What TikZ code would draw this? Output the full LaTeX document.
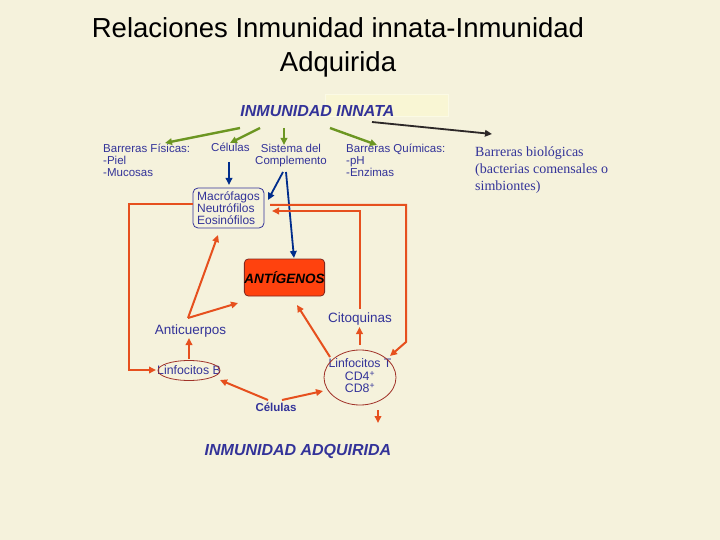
\documentclass[tikz,border=0pt]{standalone}
\usepackage{fontspec}
\setmainfont{Liberation Sans}
\newfontfamily\seriffont{Liberation Serif}
\usetikzlibrary{arrows.meta,shapes.geometric}
\definecolor{bg}{RGB}{245,242,220}
\definecolor{halo}{RGB}{249,246,212}
\definecolor{txtblue}{RGB}{51,51,153}
\definecolor{grn}{RGB}{108,150,34}
\definecolor{redl}{RGB}{230,80,30}
\definecolor{darkblue}{RGB}{0,45,140}
\definecolor{antred}{RGB}{255,66,14}
\definecolor{ellred}{RGB}{160,50,40}
\definecolor{dkline}{RGB}{45,40,40}
\tikzset{
  title/.style={font=\fontsize{27.5}{34}\selectfont, text=black, inner sep=0},
  head/.style={font=\fontsize{16}{19}\selectfont\bfseries\itshape, text=txtblue, inner sep=0},
  small/.style={font=\fontsize{11.5}{12.3}\selectfont, text=txtblue, inner sep=0},
  mid/.style={font=\fontsize{13.5}{15}\selectfont, text=txtblue, inner sep=0},
  lin/.style={font=\fontsize{12.3}{12.6}\selectfont, text=txtblue, inner sep=0},
  sertxt/.style={font=\seriffont\fontsize{14}{17}\selectfont, text=txtblue, inner sep=0},
  tip/.style={-{Triangle[length=7pt,width=6.5pt]}},
  garr/.style={tip, draw=grn, line width=2.4pt},
  barr/.style={tip, draw=darkblue, line width=1.8pt},
  rarr/.style={tip, draw=redl, line width=2pt},
  ell/.style={draw=ellred, line width=0.8pt},
}
\begin{document}
\begin{tikzpicture}[x=1pt,y=-1pt]
\fill[bg] (0,0) rectangle (720,540);
\useasboundingbox (0,0) rectangle (720,540);
% faint highlight box
\draw[draw=halo!60!white, fill=halo, line width=1pt] (325,95) rectangle (448,117);

% titles
\node[title, anchor=base] (t1) at (338,38) {Relaciones Inmunidad innata-Inmunidad};
\node[title, anchor=base] (t2) at (338,72) {Adquirida};
\node[head, anchor=base] (innata) at (317.5,117) {INMUNIDAD INNATA};

% top row texts
\node[small, anchor=north west, align=left] (fisicas) at (103,143.5) {Barreras Físicas:\\-Piel\\-Mucosas};
\node[small, anchor=base west] (celulas) at (211,152) {Células};
\node[small, anchor=north, align=center] (compl) at (291,143.5) {Sistema del\\Complemento};
\node[small, anchor=north west, align=left] (quimicas) at (346,143.5) {Barreras Químicas:\\-pH\\-Enzimas};
\node[sertxt, anchor=north west, align=left] (biol) at (475,147) {Barreras biológicas\\(bacterias comensales o\\simbiontes)};

% cells box
\node[small, font=\fontsize{12}{12}\selectfont, draw=txtblue, line width=0.8pt, rounded corners=5pt, align=left,
      minimum width=71, minimum height=40] (macro) at (228.5,208)
      {Macrófagos\\Neutrófilos\\Eosinófilos};

% antigens
\node[draw=ellred!80!black, line width=0.8pt, fill=antred, rounded corners=4pt,
      minimum width=77, minimum height=37, inner sep=0,
      font=\fontsize{13.5}{16}\selectfont\bfseries\itshape] (antig) at (284.5,277.5) {ANTÍGENOS};

% lower texts
\node[mid, anchor=base] (anticuerpos) at (190.5,334) {Anticuerpos};
\node[mid, anchor=base] (citoq) at (360,322) {Citoquinas};
\node[lin] (linfB) at (189,370.5) {Linfocitos B};
\draw[ell] (linfB.center) ellipse [x radius=31, y radius=10];
\node[lin, align=center] (linfT) at (360,376) {Linfocitos T\\CD4\textsuperscript{+}\\CD8\textsuperscript{+}};
\draw[ell] (360,377.5) ellipse [x radius=36, y radius=27.5];
\node[small, anchor=base, font=\fontsize{11.5}{13}\selectfont\bfseries] (celulas2) at (276,411) {Células};
\node[head, anchor=base] (adq) at (298,455) {INMUNIDAD ADQUIRIDA};

% coordinates
\coordinate (g1s) at (240,128); \coordinate (g1e) at (165,143);
\coordinate (g2s) at (260,128); \coordinate (g2e) at (230,143);
\coordinate (g3s) at (284,128); \coordinate (g3e) at (284,145);
\coordinate (g4s) at (330,128); \coordinate (g4e) at (377,145);
\coordinate (ks) at (372,122); \coordinate (ke) at (492,134);
\coordinate (b1s) at (229,162); \coordinate (b1e) at (229,185);
\coordinate (b2s) at (283,172); \coordinate (b2e) at (268,200);
\coordinate (b3s) at (286,172); \coordinate (b3e) at (294,258);
\coordinate (r1s) at (193,204); \coordinate (r1a) at (129,204); \coordinate (r1b) at (129,370); \coordinate (r1e) at (156,370);
\coordinate (r2s) at (270,205); \coordinate (r2a) at (406,205); \coordinate (r2b) at (406,342); \coordinate (r2e) at (390,356);
\coordinate (r3s) at (359.5,309); \coordinate (r3a) at (359.5,211); \coordinate (r3e) at (272,211);
\coordinate (r4s) at (359.5,345); \coordinate (r4e) at (359.5,327);
\coordinate (ac) at (188,318); \coordinate (r5e) at (218,235); \coordinate (r6e) at (238,303);
\coordinate (r7s) at (330,357); \coordinate (r7e) at (297,305);
\coordinate (r8s) at (189,359); \coordinate (r8e) at (189,338);
\coordinate (c1) at (268,400); \coordinate (r9e) at (220,380);
\coordinate (c2) at (282,400); \coordinate (r10e) at (323,391);
\coordinate (r11s) at (378,410); \coordinate (r11e) at (378,423);

% green arrows
\draw[garr] (g1s) -- (g1e);
\draw[garr] (g2s) -- (g2e);
\draw[garr] (g3s) -- (g3e);
\draw[garr] (g4s) -- (g4e);
% dark arrow to biological barriers
\draw[tip, draw=dkline, line width=1.8pt] (ks) -- (ke);
% blue arrows
\draw[barr] (b1s) -- (b1e);
\draw[barr] (b2s) -- (b2e);
\draw[barr] (b3s) .. controls (290,215) .. (b3e);
% red arrows
\draw[rarr] (r1s) -- (r1a) -- (r1b) -- (r1e);
\draw[rarr] (r2s) -- (r2a) -- (r2b) -- (r2e);
\draw[rarr] (r3s) -- (r3a) -- (r3e);
\draw[rarr] (r4s) -- (r4e);
\draw[rarr] (ac) -- (r5e);
\draw[rarr] (ac) -- (r6e);
\draw[rarr] (r7s) -- (r7e);
\draw[rarr] (r8s) -- (r8e);
\draw[rarr] (c1) -- (r9e);
\draw[rarr] (c2) -- (r10e);
\draw[rarr] (r11s) -- (r11e);
\end{tikzpicture}
\end{document}
